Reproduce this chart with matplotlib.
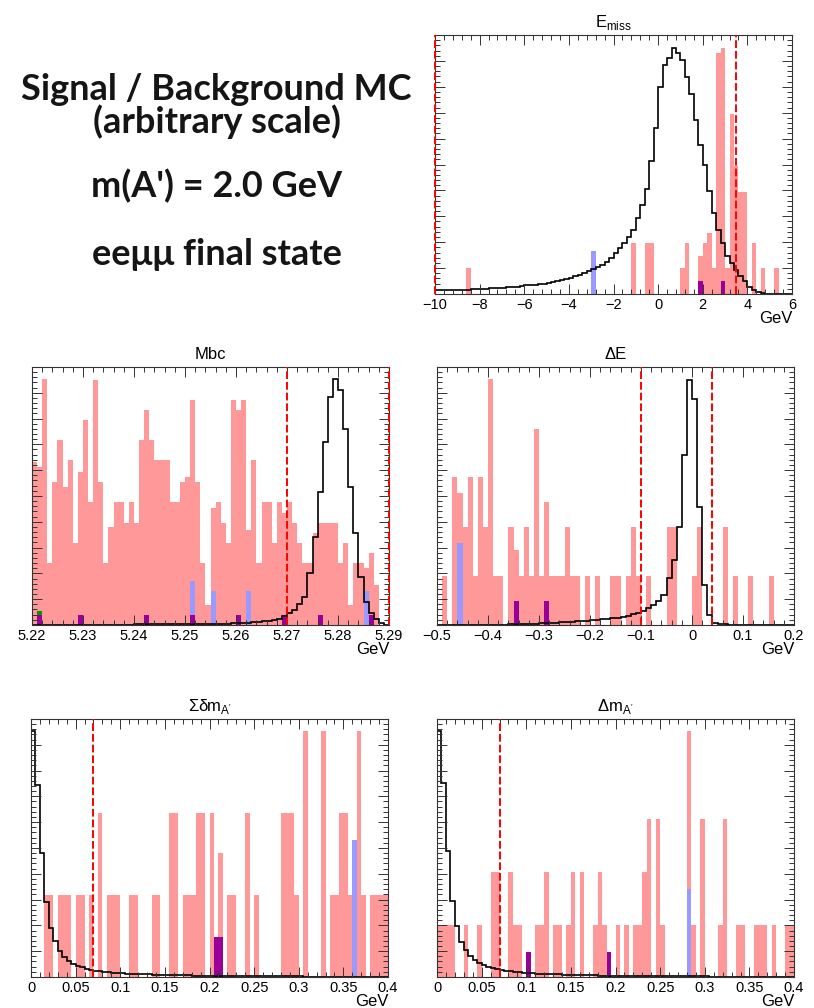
import numpy as np
import matplotlib
matplotlib.use("Agg")
import matplotlib.pyplot as plt
from matplotlib.ticker import AutoMinorLocator, MultipleLocator, FuncFormatter

plt.rcParams["font.family"] = ["Liberation Sans", "DejaVu Sans"]
plt.rcParams["mathtext.fontset"] = "custom"
plt.rcParams["mathtext.rm"] = "Liberation Sans"

RED = "#ff9999"
BLUE = "#9999ff"
PURPLE = "#990099"
GREEN = "#009900"

# all heights are in % of the frame height (arbitrary scale)

# E_miss : 80 bins of 0.2 GeV, -10 .. 6
emiss_sig = [1.4, 1.4, 1.5, 1.5, 1.6, 1.6, 1.7, 1.7, 1.8, 1.9,
             2.0, 2.1, 2.2, 2.3, 2.4, 2.5, 2.6, 2.8, 2.9, 3.1,
             3.3, 3.4, 3.6, 3.8, 4.0, 4.2, 4.5, 4.9, 5.3, 5.7,
             6.2, 6.8, 7.4, 8.0, 8.7, 9.5, 10.4, 11.3, 12.5, 14.0,
             15.8, 17.7, 19.7, 22.0, 24.8, 29.3, 34.4, 40.5, 51.5, 64.0,
             79.8, 88.4, 91.0, 94.9, 92.9, 90.4, 83.9, 77.2, 67.2, 57.6,
             49.9, 39.6, 31.2, 24.8, 19.7, 14.5, 12.0, 9.4, 6.8, 4.9,
             2.7, 1.4, 0.6, 0.3, 0.1, 0, 0, 0, 0, 0]
emiss_bkg_x = [-8.6, -1.2, -0.6, -0.4, 1.0, 1.2, 1.8, 2.0, 2.2, 2.4,
               2.6, 2.8, 3.0, 3.2, 3.4, 3.6, 3.8, 4.2, 4.6, 5.2]
emiss_bkg_h = [10.0, 19.7, 19.7, 19.7, 10.0, 19.7, 14.7, 19.7, 23.5, 10.0,
               92.9, 94.9, 10.0, 69.4, 49.5, 39.3, 39.3, 19.7, 10.0, 10.0]
emiss_blue_x = [-3.0]
emiss_blue_h = [16.8]
emiss_purple_x = [1.8, 2.8]
emiss_purple_h = [4.9, 4.9]
emiss_cuts = [-10, 3.5]

# Mbc : 70 bins of 1 MeV, 5.22 .. 5.29
mbc_sig = [0.1, 0.1, 0.1, 0.1, 0.1, 0.1, 0.1, 0.1, 0.1, 0.1,
           0.15, 0.15, 0.15, 0.15, 0.15, 0.15, 0.15, 0.15, 0.15, 0.15,
           0.2, 0.2, 0.2, 0.2, 0.2, 0.2, 0.2, 0.2, 0.2, 0.2,
           0.3, 0.3, 0.3, 0.4, 0.4, 0.4, 0.4, 0.5, 0.5, 0.6,
           0.6, 0.8, 0.9, 1.0, 1.2, 1.4, 1.7, 1.9, 2.5, 3.5,
           4.5, 5.8, 8.1, 11.0, 20.0, 34.2, 51.6, 71.0, 88.4, 95.5,
           91.0, 76.1, 53.5, 35.5, 18.7, 9.0, 4.5, 2.2, 0.6, 0.1]
mbc_bkg = [63.2, 61.3, 95.5, 23.9, 55.5, 71.6, 53.5, 63.9, 31.6, 59.4,
           79.4, 47.7, 95.1, 55.5, 23.9, 38.1, 47.7, 47.7, 39.6, 47.7,
           39.6, 71.6, 83.2, 71.6, 63.9, 63.9, 63.9, 47.7, 47.7, 55.5,
           57.4, 87.1, 55.5, 23.9, 7.7, 45.2, 47.7, 39.6, 31.9, 87.1,
           83.2, 87.1, 36.8, 63.9, 23.9, 47.7, 47.7, 31.9, 47.7, 43.5,
           47.7, 39.6, 31.9, 23.9, 23.9, 35.5, 39.6, 39.6, 39.6, 39.6,
           23.9, 31.6, 7.7, 23.9, 23.9, 21.9, 27.7, 15.5, 0, 0]
mbc_blue_x = [5.251, 5.255, 5.262, 5.285]
mbc_blue_h = [17.2, 13.2, 13.2, 13.2]
mbc_purple_x = [5.221, 5.229, 5.242, 5.251, 5.260, 5.269, 5.276, 5.286]
mbc_purple_h = [3.9, 3.9, 3.9, 3.9, 3.9, 3.9, 3.9, 3.9]
mbc_green_x = [5.221]
mbc_green_h = [5.4]
mbc_cuts = [5.27, 5.29]

# Delta E : 70 bins of 10 MeV, -0.5 .. 0.2
de_sig = [0.1, 0.1, 0.1, 0.1, 0.1, 0.1, 0.1, 0.1, 0.1, 0.1,
          0.1, 0.1, 0.1, 0.1, 0.3, 0.3, 0.4, 0.4, 0.5, 0.5,
          0.6, 0.6, 0.8, 0.9, 1.0, 1.2, 1.3, 1.4, 1.5, 1.7,
          1.8, 1.9, 2.2, 2.3, 2.6, 2.8, 3.2, 3.6, 4.1, 4.8,
          5.4, 6.5, 7.7, 9.3, 11.6, 18.1, 25.2, 38.1, 65.8, 95.1,
          87.7, 45.8, 15.5, 3.9, 0.9, 0.4, 0.2, 0.1, 0.1, 0.1,
          0.1, 0.1, 0.1, 0.1, 0.1, 0.1, 0.1, 0.1, 0.1, 0.1]
de_bkg_x = [-0.49, -0.47, -0.46, -0.45, -0.44, -0.43, -0.42, -0.41, -0.40, -0.39,
            -0.38, -0.36, -0.35, -0.34, -0.33, -0.32, -0.31, -0.30, -0.29, -0.28,
            -0.27, -0.26, -0.25, -0.24, -0.23, -0.21, -0.19, -0.16, -0.15, -0.13,
            -0.12, -0.11, -0.09, -0.05, -0.04, 0.00, 0.01, 0.06, 0.08, 0.11, 0.15]
de_bkg_h = [19.1, 57.4, 51.0, 38.1, 57.4, 19.1, 57.4, 38.1, 95.5, 19.1,
            19.1, 38.1, 29.0, 19.1, 38.1, 19.1, 76.1, 19.1, 47.7, 19.1,
            19.1, 19.1, 38.1, 19.1, 19.1, 19.1, 19.1, 19.1, 19.1, 19.1,
            38.1, 19.1, 19.1, 38.1, 38.1, 19.1, 38.1, 38.1, 19.1, 19.1, 19.1]
de_blue_x = [-0.46]
de_blue_h = [31.6]
de_purple_x = [-0.35, -0.29]
de_purple_h = [9.4, 9.4]
de_cuts = [-0.1, 0.04]

# Sum delta m_A' : 80 bins of 5 MeV, 0 .. 0.4
sdm_sig = [95.5, 74.2, 47.9, 29.1, 19.0, 14.0, 10.0, 7.8, 6.2, 5.2,
           4.4, 3.8, 3.2, 2.8, 2.5, 2.2, 1.9, 1.8, 1.7, 1.6,
           1.4, 1.3, 1.3, 1.2, 1.2, 1.0, 1.0, 0.9, 0.9, 0.8,
           0.8, 0.6, 0.6, 0.6, 0.6, 0.6, 0.5, 0.5, 0.5, 0.5,
           0.5, 0.4, 0.4, 0.4, 0.4, 0.4, 0.4, 0.4, 0.4, 0.4,
           0.4, 0.3, 0.3, 0.3, 0.3, 0.3, 0.3, 0.3, 0.3, 0.3,
           0.3, 0.1, 0.1, 0.1, 0.1, 0.1, 0.1, 0.1, 0.1, 0.1,
           0.1, 0.1, 0.1, 0.1, 0.1, 0.1, 0.1, 0.1, 0.1, 0.1]
sdm_bkg_x = [0.015, 0.02, 0.03, 0.035, 0.04, 0.05, 0.055, 0.065, 0.075, 0.085,
             0.09, 0.095, 0.11, 0.115, 0.135, 0.14, 0.155, 0.16, 0.17, 0.175,
             0.18, 0.185, 0.19, 0.2, 0.21, 0.22, 0.225, 0.24, 0.25, 0.28,
             0.285, 0.29, 0.295, 0.305, 0.325, 0.335, 0.34, 0.345, 0.35, 0.355,
             0.36, 0.365, 0.37, 0.38, 0.385, 0.39, 0.395]
sdm_bkg_h = [31.7, 31.7, 31.7, 31.7, 31.7, 31.7, 31.7, 31.7, 63.5, 31.7,
             31.7, 31.7, 31.7, 31.7, 31.7, 31.7, 63.5, 63.5, 31.7, 31.7,
             31.7, 63.5, 63.5, 63.5, 47.9, 31.7, 31.7, 63.5, 31.7, 63.5,
             63.5, 63.5, 31.7, 95.5, 95.5, 31.7, 31.7, 63.5, 63.5, 31.7,
             31.7, 95.5, 31.7, 31.7, 31.7, 31.7, 31.7]
sdm_blue_x = [0.36]
sdm_blue_h = [53.1]
sdm_purple_x = [0.205, 0.21]
sdm_purple_h = [15.5, 15.5]
sdm_cuts = [0.07]

# Delta m_A' : 80 bins of 5 MeV, 0 .. 0.4
dm_sig = [95.5, 75.1, 48.8, 29.5, 19.7, 13.6, 10.4, 8.2, 6.7, 5.6,
          4.7, 4.0, 3.5, 3.1, 2.7, 2.5, 2.2, 1.9, 1.8, 1.7,
          1.6, 1.4, 1.3, 1.3, 1.2, 1.2, 1.0, 1.0, 0.9, 0.9,
          0.8, 0.6, 0.6, 0.6, 0.6, 0.6, 0.5, 0.5, 0.5, 0.5,
          0.5, 0.4, 0.4, 0.4, 0.4, 0.4, 0.4, 0.4, 0.4, 0.4,
          0.4, 0.3, 0.3, 0.3, 0.3, 0.3, 0.3, 0.3, 0.3, 0.3,
          0.3, 0.1, 0.1, 0.1, 0.1, 0.1, 0.1, 0.1, 0.1, 0.1,
          0.1, 0.1, 0.1, 0.1, 0.1, 0.1, 0.1, 0.1, 0.1, 0.1]
dm_bkg_x = [0, 0.005, 0.01, 0.015, 0.03, 0.045, 0.06, 0.065, 0.08, 0.085,
            0.09, 0.11, 0.115, 0.12, 0.13, 0.135, 0.145, 0.15, 0.16, 0.175,
            0.18, 0.185, 0.2, 0.21, 0.22, 0.225, 0.23, 0.235, 0.245, 0.25,
            0.28, 0.285, 0.295, 0.315, 0.32, 0.335, 0.34, 0.355, 0.36, 0.365,
            0.375, 0.39, 0.395]
dm_bkg_h = [20.1, 20.1, 20.1, 20.1, 20.1, 20.1, 40.8, 40.8, 40.8, 20.1,
            20.1, 20.1, 20.1, 40.8, 20.1, 20.1, 20.1, 40.8, 40.8, 20.1,
            40.8, 20.1, 20.1, 20.1, 20.1, 20.1, 40.8, 61.3, 61.3, 20.1,
            95.5, 20.1, 61.3, 20.1, 61.3, 20.1, 20.1, 20.1, 20.1, 20.1,
            20.1, 20.1, 20.1]
dm_blue_x = [0.28]
dm_blue_h = [34.1]
dm_purple_x = [0.1, 0.19]
dm_purple_h = [9.7, 9.7]
dm_cuts = [0.07]


def to_bins(lo, hi, n, xs, hs):
    # sparse (low edge, height) pairs -> full histogram contents
    out = np.zeros(n)
    bw = (hi - lo) / n
    for x, h in zip(xs, hs):
        out[int(round((x - lo) / bw))] = h
    return out


def fmt(v, pos):
    return f"{round(v, 6) + 0:g}".replace("-", "\u2212")


def panel(rect, title, lo, hi, n, sig, bkg, blue, purple, cuts, major, green=None):
    edges = np.linspace(lo, hi, n + 1)
    ax = fig.add_axes(rect)
    ax.stairs(bkg, edges, fill=True, color=RED, lw=0)
    ax.stairs(blue, edges, fill=True, color=BLUE, lw=0)
    if green is not None:
        ax.stairs(green, edges, fill=True, color=GREEN, lw=0)
    ax.stairs(purple, edges, fill=True, color=PURPLE, lw=0)
    ax.stairs(sig, edges, color="black", lw=1.2, baseline=None)
    for c in cuts:
        ax.axvline(c, color="red", ls=(0, (4, 1.5)), lw=1.4, clip_on=False, zorder=4)
    ax.set_xlim(lo, hi)
    ax.set_ylim(0, 100)
    ax.set_title(title, fontsize=12, pad=6)
    ax.set_xlabel("GeV", loc="right", fontsize=12, labelpad=-1)
    ax.xaxis.set_major_locator(MultipleLocator(major))
    ax.xaxis.set_minor_locator(AutoMinorLocator(5))
    ax.xaxis.set_major_formatter(FuncFormatter(fmt))
    ax.yaxis.set_major_locator(MultipleLocator(10))
    ax.yaxis.set_minor_locator(AutoMinorLocator(5))
    ax.tick_params(which="both", direction="in", top=True, right=True,
                   labelleft=False, width=0.7, color="#333333")
    ax.tick_params(which="major", length=7, labelsize=10.5, pad=3)
    ax.tick_params(which="minor", length=3.5)
    for s in ax.spines.values():
        s.set_linewidth(0.8)
        s.set_color("#333333")
    return ax


fig = plt.figure(figsize=(8.14, 10.08), dpi=100)

panel([0.5344, 0.7083, 0.4386, 0.2570], "E$_\\mathregular{miss}$", -10, 6, 80,
      emiss_sig, to_bins(-10, 6, 80, emiss_bkg_x, emiss_bkg_h),
      to_bins(-10, 6, 80, emiss_blue_x, emiss_blue_h),
      to_bins(-10, 6, 80, emiss_purple_x, emiss_purple_h), emiss_cuts, 2)

panel([0.0393, 0.3800, 0.4386, 0.2560], "Mbc", 5.22, 5.29, 70,
      mbc_sig, mbc_bkg,
      to_bins(5.22, 5.29, 70, mbc_blue_x, mbc_blue_h),
      to_bins(5.22, 5.29, 70, mbc_purple_x, mbc_purple_h), mbc_cuts, 0.01,
      green=to_bins(5.22, 5.29, 70, mbc_green_x, mbc_green_h))

panel([0.5369, 0.3800, 0.4386, 0.2560], "ΔE", -0.5, 0.2, 70,
      de_sig, to_bins(-0.5, 0.2, 70, de_bkg_x, de_bkg_h),
      to_bins(-0.5, 0.2, 70, de_blue_x, de_blue_h),
      to_bins(-0.5, 0.2, 70, de_purple_x, de_purple_h), de_cuts, 0.1)

panel([0.0381, 0.0308, 0.4386, 0.2560], "Σδm$_\\mathregular{A'}$", 0, 0.4, 80,
      sdm_sig, to_bins(0, 0.4, 80, sdm_bkg_x, sdm_bkg_h),
      to_bins(0, 0.4, 80, sdm_blue_x, sdm_blue_h),
      to_bins(0, 0.4, 80, sdm_purple_x, sdm_purple_h), sdm_cuts, 0.05)

panel([0.5369, 0.0308, 0.4386, 0.2560], "Δm$_\\mathregular{A'}$", 0, 0.4, 80,
      dm_sig, to_bins(0, 0.4, 80, dm_bkg_x, dm_bkg_h),
      to_bins(0, 0.4, 80, dm_blue_x, dm_blue_h),
      to_bins(0, 0.4, 80, dm_purple_x, dm_purple_h), dm_cuts, 0.05)

# header text on the left
lines = ["Signal / Background MC", "(arbitrary scale)", "m(A') = 2.0 GeV", "eeμμ final state"]
line_y = [0.9008, 0.8680, 0.8046, 0.7371]
for t, y in zip(lines, line_y):
    fig.text(0.266, y, t, ha="center", va="baseline", fontsize=26,
             fontweight="bold", family=["Lato", "DejaVu Sans"], color="#151515")

fig.savefig("out.png", dpi=100)
